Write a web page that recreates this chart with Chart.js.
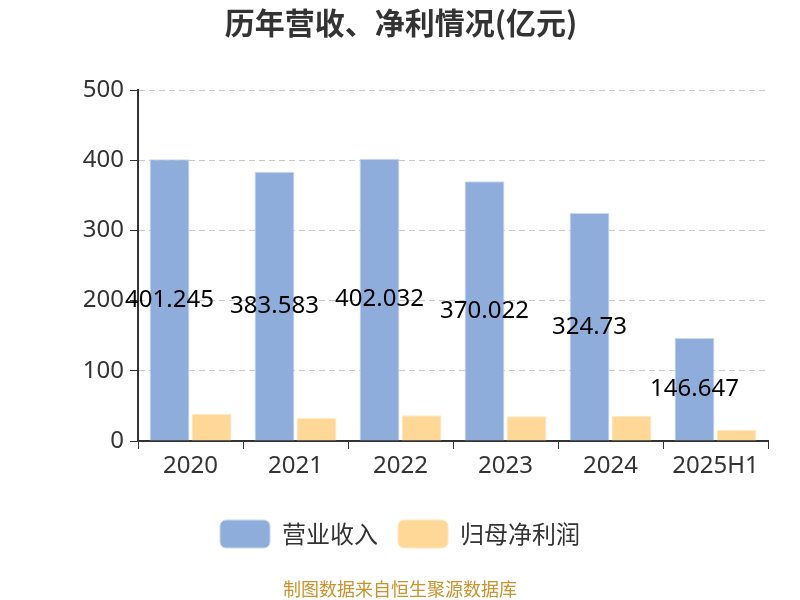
<!DOCTYPE html>
<html><head><meta charset="utf-8">
<script src="https://cdn.jsdelivr.net/npm/chart.js@4/dist/chart.umd.min.js"></script>
<style>html,body{margin:0;padding:0;background:#fff}#wrap{width:800px;height:600px}</style>
</head><body><div id="wrap"><canvas id="c" width="800" height="600"></canvas></div>
<script>
const categories = ['2020','2021','2022','2023','2024','2025H1'];
const revenue = [401.245, 383.583, 402.032, 370.022, 324.73, 146.647];
const netProfit = [38.6, 33.0, 36.7, 35.2, 35.7, 16.2];
const yTicks = [0,100,200,300,400,500];
const titleText = '历年营收、净利情况(亿元)';
const footerText = '制图数据来自恒生聚源数据库';
const FONT = '"Noto Sans", "Noto Sans CJK SC", sans-serif';
const CJK = '"Noto Sans CJK SC", "Noto Sans", sans-serif';

const labelPlugin = {
  id: 'valLabels',
  afterDatasetsDraw(chart) {
    const ctx = chart.ctx;
    const meta = chart.getDatasetMeta(0);
    ctx.save();
    ctx.font = '24px ' + FONT;
    ctx.fillStyle = '#000';
    ctx.textAlign = 'center';
    ctx.textBaseline = 'middle';
    meta.data.forEach((bar, i) => {
      const y = (bar.y + bar.base) / 2;
      ctx.fillText(String(revenue[i]), bar.x, y);
    });
    ctx.restore();
  },
  afterDraw(chart) {
    const ctx = chart.ctx;
    ctx.save();
    ctx.textAlign = 'center';
    ctx.textBaseline = 'middle';
    ctx.font = 'bold 30px ' + CJK;
    ctx.fillStyle = '#333';
    ctx.fillText(titleText, 401, 23);
    ctx.font = '18px ' + CJK;
    ctx.fillStyle = '#c8922c';
    ctx.fillText(footerText, 400, 589);
    ctx.restore();
  }
};

new Chart(document.getElementById('c'), {
  type: 'bar',
  data: {
    labels: categories,
    datasets: [
      { label: '营业收入', data: revenue, backgroundColor: '#8eaddb', borderColor: '#c9d7ee', borderWidth: 1, barPercentage: 0.95, categoryPercentage: 0.8 },
      { label: '归母净利润', data: netProfit, backgroundColor: '#ffd898', borderColor: '#ffe8c2', borderWidth: 1, barPercentage: 0.95, categoryPercentage: 0.8 }
    ]
  },
  options: {
    responsive: false,
    animation: false,
    layout: { padding: { left: 0, right: 0, top: 90, bottom: 42 } },
    plugins: {
      title: { display: false },
      legend: { position: 'bottom', labels: { color: '#333', font: { family: CJK, size: 24 }, boxWidth: 50, boxHeight: 28, useBorderRadius: true, borderRadius: 6, padding: 20 } },
      tooltip: { enabled: false }
    },
    scales: {
      x: {
        afterFit(axis) { axis.height = 59; },
        grid: { display: true, drawOnChartArea: false, drawTicks: true, tickLength: 8, tickColor: '#333' },
        border: { display: true, color: '#333', width: 2 },
        ticks: { color: '#333', font: { family: FONT, size: 24 }, padding: 3 }
      },
      y: {
        min: 0, max: 500,
        afterBuildTicks(axis) { axis.ticks = yTicks.map(v => ({ value: v })); },
        afterFit(axis) { axis.width = 138; },
        grid: { color: '#c8c8c8', drawTicks: true, tickLength: 8, tickColor: '#333', tickBorderDash: [] },
        border: { display: true, color: '#333', width: 2, dash: [6, 4] },
        ticks: { color: '#333', font: { family: FONT, size: 24 }, padding: 6 }
      },
      yRight: {
        position: 'right', min: 0, max: 500,
        afterFit(axis) { axis.width = 32; },
        grid: { display: false, drawOnChartArea: false },
        border: { display: false },
        ticks: { display: false }
      }
    }
  },
  plugins: [labelPlugin]
});
</script></body></html>
